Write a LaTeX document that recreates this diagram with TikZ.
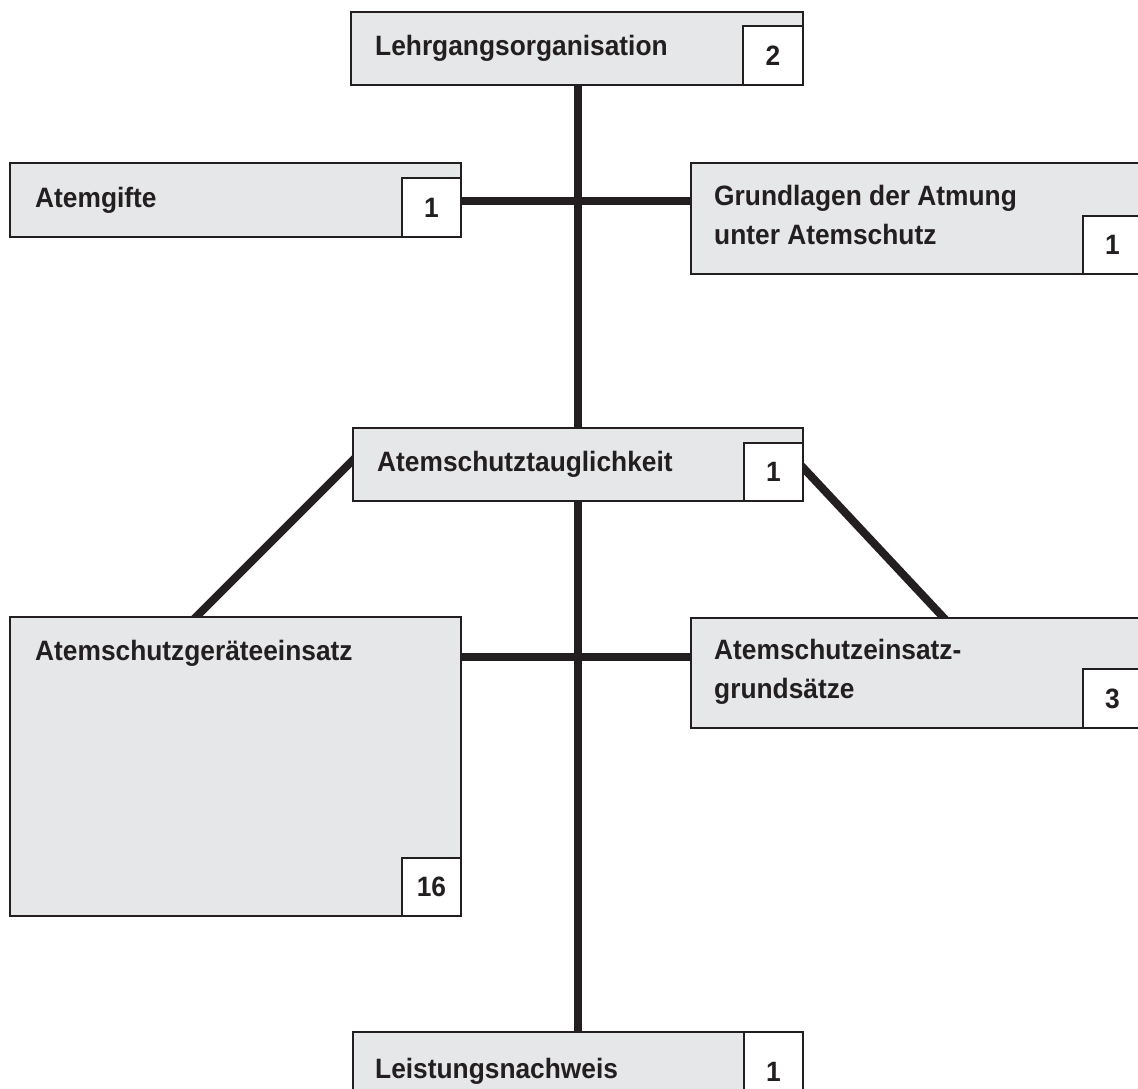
\documentclass[tikz,border=0pt]{standalone}
\usepackage{fontspec}
\setmainfont{Liberation Sans}[FakeStretch=0.94]
\usetikzlibrary{backgrounds}
\definecolor{ink}{HTML}{231F20}
\definecolor{boxgray}{HTML}{E6E7E8}
\begin{document}
\begin{tikzpicture}[x=1pt,y=1pt,
  box/.style={draw=ink, fill=boxgray, line width=1.8pt, rectangle, inner sep=0pt, anchor=north west},
  numbox/.style={draw=ink, fill=white, line width=1.8pt, rectangle, inner sep=0pt, anchor=north west},
  lbl/.style={anchor=base west, inner sep=0pt, font=\fontsize{28}{34}\selectfont\bfseries, text=ink},
  num/.style={inner sep=0pt, font=\fontsize{28}{34}\selectfont\bfseries, text=ink},
  conn/.style={draw=ink, line width=8pt}]
\useasboundingbox (0,0) rectangle (1138,-1088);

% Lehrgangsorganisation
\node[box, minimum width=452pt, minimum height=73pt] (lo) at (350,-11) {};
\node[numbox, minimum width=60pt, minimum height=59pt] (lon) at (742,-25) {};
\node[num] (lonum) at (lon.center) {2};
\node[lbl] (lot) at (375,-55) {Lehrgangsorganisation};

% Atemgifte
\node[box, minimum width=451pt, minimum height=74pt] (ag) at (9,-162) {};
\node[numbox, minimum width=59pt, minimum height=59pt] (agn) at (401,-177) {};
\node[num] (agnum) at (agn.center) {1};
\node[lbl] (agt) at (35,-207) {Atemgifte};

% Grundlagen
\node[box, minimum width=451pt, minimum height=111pt] (gl) at (690,-162) {};
\node[numbox, minimum width=59pt, minimum height=58pt] (gln) at (1082,-215) {};
\node[num] (glnum) at (gln.center) {1};
\node[lbl] (glt1) at (714,-205) {Grundlagen der Atmung};
\node[lbl] (glt2) at (714,-244) {unter Atemschutz};

% Atemschutztauglichkeit
\node[box, minimum width=450pt, minimum height=73pt] (ta) at (352,-427) {};
\node[numbox, minimum width=59pt, minimum height=58pt] (tan) at (743,-442) {};
\node[num] (tanum) at (tan.center) {1};
\node[lbl] (tat) at (377,-471) {Atemschutztauglichkeit};

% Atemschutzgeraeteeinsatz
\node[box, minimum width=451pt, minimum height=299pt] (ge) at (9,-616) {};
\node[numbox, minimum width=59pt, minimum height=58pt] (gen) at (401,-857) {};
\node[num] (genum) at (gen.center) {16};
\node[lbl] (get) at (35,-660) {Atemschutzgeräteeinsatz};

% Atemschutzeinsatzgrundsaetze
\node[box, minimum width=451pt, minimum height=110pt] (gs) at (690,-617) {};
\node[numbox, minimum width=59pt, minimum height=59pt] (gsn) at (1082,-668) {};
\node[num] (gsnum) at (gsn.center) {3};
\node[lbl] (gst1) at (714,-659) {Atemschutzeinsatz-};
\node[lbl] (gst2) at (714,-698) {grundsätze};

% Leistungsnachweis
\node[box, minimum width=450pt, minimum height=80pt] (ln) at (352,-1031) {};
\node[numbox, minimum width=59pt, minimum height=80pt] (lnn) at (743,-1031) {};
\node[num] (lnnum) at (lnn.center) {1};
\node[lbl] (lnt) at (375,-1078) {Leistungsnachweis};

\coordinate (h1) at (0,-201);
\coordinate (h2) at (0,-657);

\begin{scope}[on background layer]
  \draw[conn] (ta.center |- lo.center) -- (ln.center);
  \draw[conn] (agn.center |- h1) -- (gl.center |- h1);
  \draw[conn] (ge.center |- h2) -- (gs.center |- h2);
  \draw[conn, shorten <=-8pt, shorten >=-8pt] ([yshift=3.5pt]ta.west) -- ([xshift=188pt]ge.north west);
  \draw[conn, shorten <=-8pt, shorten >=-8pt] ([yshift=-4pt]ta.east) -- ([xshift=253pt]gs.north west);
\end{scope}
\end{tikzpicture}
\end{document}
